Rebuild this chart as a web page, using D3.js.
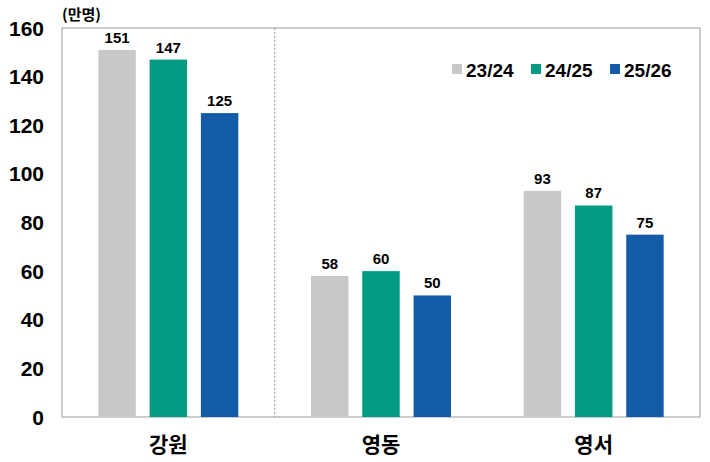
<!DOCTYPE html>
<html><head><meta charset="utf-8">
<script src="https://d3js.org/d3.v7.min.js"></script>
<style>body{margin:0;background:#fff}</style>
</head><body><div id="chart"></div>
<script>
// data
const categories = ['강원', '영동', '영서'];
const seriesNames = ['23/24', '24/25', '25/26'];
const values = [
    [151, 147, 125],
    [58, 60, 50],
    [93, 87, 75]
];
const yTicks = [0, 20, 40, 60, 80, 100, 120, 140, 160];
const colors = ['#c8c8c8', '#009b82', '#155ca8'];

const W = 710, H = 462;
const plotL = 62, plotR = 700, plotT = 28, plotB = 417;
const font = "'Liberation Sans', Arial, sans-serif";
const krFont = "'Noto Sans CJK KR', sans-serif";

let svg = d3.select('#chart').append('svg')
    .attr('width', W).attr('height', H);

let x = d3.scaleBand().domain(categories).range([plotL, plotR]);
let y = d3.scaleLinear().domain([0, 160]).range([plotB, plotT]);
let xs = d3.scaleBand().domain(seriesNames).range([-70, 70]).paddingInner(0.27);

// frame
svg.append('rect')
    .attr('x', plotL).attr('y', plotT)
    .attr('width', plotR - plotL).attr('height', plotB - plotT)
    .attr('fill', 'none').attr('stroke', '#999').attr('stroke-width', 1);

// dashed separator after first category
svg.append('line')
    .attr('x1', x(categories[1])).attr('x2', x(categories[1]))
    .attr('y1', plotT).attr('y2', plotB)
    .attr('stroke', '#999').attr('stroke-dasharray', '2,2');

// y tick labels
svg.selectAll('.ytick').data(yTicks).enter().append('text')
    .attr('x', 44).attr('y', d => y(d))
    .attr('dy', '0.36em').attr('text-anchor', 'end')
    .style('font', 'bold 21px ' + font)
    .text(d => d);

svg.append('text').attr('x', 62).attr('y', 20)
    .style('font', 'bold 15px ' + krFont)
    .text('(만명)');

// bars
let groups = svg.selectAll('.grp').data(values).enter().append('g')
    .attr('transform', (d, i) => 'translate(' + (x(categories[i]) + x.bandwidth() / 2) + ',0)');

groups.selectAll('rect').data(d => d).enter().append('rect')
    .attr('x', (d, j) => xs(seriesNames[j]))
    .attr('width', xs.bandwidth())
    .attr('y', d => y(d))
    .attr('height', d => plotB - y(d))
    .attr('fill', (d, j) => colors[j]);

groups.selectAll('.lbl').data(d => d).enter().append('text')
    .attr('x', (d, j) => xs(seriesNames[j]) + xs.bandwidth() / 2)
    .attr('y', d => y(d) - 7)
    .attr('text-anchor', 'middle')
    .style('font', 'bold 15px ' + font)
    .text(d => d);

// category labels
svg.selectAll('.cat').data(categories).enter().append('text')
    .attr('x', d => x(d) + x.bandwidth() / 2).attr('y', 452)
    .attr('text-anchor', 'middle')
    .style('font', 'bold 21px ' + krFont)
    .text(d => d);

// legend
let lg = svg.selectAll('.lg').data(seriesNames).enter().append('g')
    .attr('transform', (d, i) => 'translate(' + (452 + i * 79) + ',70)');
lg.append('rect').attr('x', 0).attr('y', -6).attr('width', 10).attr('height', 10)
    .attr('fill', (d, i) => colors[i]);
lg.append('text').attr('x', 14).attr('y', 0).attr('dy', '0.36em')
    .style('font', 'bold 19px ' + font)
    .text(d => d);
</script>
</body></html>
